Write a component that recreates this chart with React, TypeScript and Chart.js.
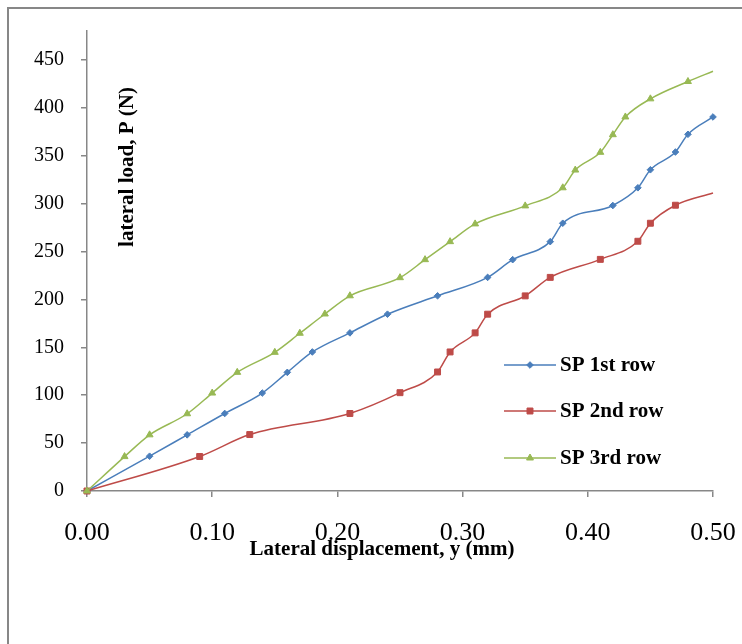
import React, { useEffect, useRef } from "react";
import { Chart, registerables } from "chart.js";
import { drawPoint } from "chart.js/helpers";

Chart.register(...registerables);

// ---- data ----
const SERIES_LABELS = ["SP 1st row", "SP 2nd row", "SP 3rd row"];

const sp1X = [0, 0.05, 0.08, 0.11, 0.14, 0.16, 0.18, 0.21, 0.24, 0.28, 0.32, 0.34, 0.37, 0.38, 0.42, 0.44, 0.45, 0.47, 0.48, 0.5];
const sp1Y = [0, 36.3, 58.6, 80.9, 102.2, 123.8, 145.1, 165, 184.5, 203.7, 222.9, 241.4, 260.2, 279.4, 297.9, 316.4, 335.2, 353.7, 372.2, 390.3];

const sp2X = [0, 0.09, 0.13, 0.21, 0.25, 0.28, 0.29, 0.31, 0.32, 0.35, 0.37, 0.41, 0.44, 0.45, 0.47, 0.5];
const sp2Y = [0, 36, 58.9, 80.9, 102.6, 124.2, 145.1, 165, 184.5, 203.6, 222.9, 241.7, 260.6, 279.4, 298.2, 311];

const sp3X = [0, 0.03, 0.05, 0.08, 0.1, 0.12, 0.15, 0.17, 0.19, 0.21, 0.25, 0.27, 0.29, 0.31, 0.35, 0.38, 0.39, 0.41, 0.42, 0.43, 0.45, 0.48, 0.5];
const sp3Y = [0, 35.9, 58.6, 80.6, 102.2, 123.8, 144.7, 164.6, 184.7, 203.7, 222.6, 241.4, 260.2, 278.7, 297.5, 316.4, 334.9, 353.4, 371.8, 390.3, 409.2, 427.3, 438];

const X_MIN = 0;
const X_MAX = 0.5;
const X_STEP = 0.1;
const Y_MIN = 0;
const Y_MAX = 480;
const Y_STEP = 50;

const X_TITLE = "Lateral displacement, y (mm)";
const Y_TITLE = "lateral load, P (N)";

const SERIF = "'Liberation Serif', 'Times New Roman', serif";

const COLORS = ["#4A7EBB", "#BE4B48", "#98B954"];
const STYLES = ["rectRot", "rect", "triangle"];
const RADII = [3.3, 4.2, 4];
const HIDE_LAST = [false, true, true];

function toPts(xs: number[], ys: number[]) {
  return xs.map((x, i) => ({ x, y: ys[i] }));
}

const framePlugin = {
  id: "frameAndText",
  beforeDraw(chart: any) {
    const ctx = chart.ctx;
    ctx.save();
    ctx.fillStyle = "#ffffff";
    ctx.fillRect(0, 0, chart.width, chart.height);
    ctx.strokeStyle = "#878787";
    ctx.lineWidth = 2;
    ctx.strokeRect(8, 8, chart.width + 50, chart.height + 50);
    ctx.restore();
  },
  afterDraw(chart: any) {
    const ctx = chart.ctx;
    ctx.save();
    // axis titles
    ctx.fillStyle = "#000";
    ctx.font = `bold 21px ${SERIF}`;
    ctx.textAlign = "center";
    ctx.textBaseline = "middle";
    ctx.fillText(X_TITLE, 382, 550);
    ctx.save();
    ctx.translate(128, 167);
    ctx.rotate(-Math.PI / 2);
    ctx.fillText(Y_TITLE, 0, 0);
    ctx.restore();

    // legend
    const rows = [365, 411, 458];
    chart.data.datasets.forEach((ds: any, i: number) => {
      const y = rows[i];
      ctx.strokeStyle = ds.borderColor;
      ctx.lineWidth = 1.6;
      ctx.beginPath();
      ctx.moveTo(504, y);
      ctx.lineTo(556, y);
      ctx.stroke();
      ctx.fillStyle = ds.borderColor;
      ctx.strokeStyle = ds.borderColor;
      ctx.lineWidth = 1;
      drawPoint(ctx, { pointStyle: STYLES[i], radius: RADII[i], borderWidth: 1, rotation: 0 } as any, 530, y);
      ctx.fillStyle = "#000";
      ctx.font = `bold 21px ${SERIF}`;
      ctx.textAlign = "left";
      ctx.textBaseline = "middle";
      ctx.fillText(ds.label, 560, y + 1);
    });
    ctx.restore();
  },
};

export default function App() {
  const ref = useRef<HTMLCanvasElement>(null);

  useEffect(() => {
    if (!ref.current) return;
    const xs = [sp1X, sp2X, sp3X];
    const ys = [sp1Y, sp2Y, sp3Y];
    const datasets = xs.map((x, i) => {
      const n = x.length;
      return {
        label: SERIES_LABELS[i],
        data: toPts(x, ys[i]),
        borderColor: COLORS[i],
        backgroundColor: COLORS[i],
        borderWidth: 1.5,
        pointStyle: STYLES[i],
        pointRadius: (c: any) => (HIDE_LAST[i] && c.dataIndex === n - 1 ? 0 : RADII[i]),
        pointBorderWidth: 1,
        pointBorderColor: COLORS[i],
        pointBackgroundColor: COLORS[i],
        cubicInterpolationMode: "monotone" as const,
        order: 3 - i,
        fill: false,
        clip: false as any,
      };
    });

    const chart = new Chart(ref.current, {
      type: "line",
      data: { datasets },
      options: {
        animation: false,
        responsive: false,
        devicePixelRatio: 1,
        layout: { padding: { left: 0, top: 31, right: 29, bottom: 0 } },
        plugins: { legend: { display: false }, tooltip: { enabled: false }, title: { display: false } },
        scales: {
          x: {
            type: "linear",
            min: X_MIN,
            max: X_MAX,
            afterFit: (s: any) => {
              s.height = 153;
              s.paddingLeft = 0;
              s.paddingRight = 0;
            },
            border: { display: true, color: "#878787", width: 1.5 },
            grid: { display: true, drawOnChartArea: false, drawTicks: true, tickLength: 6, color: "#878787", lineWidth: 1.5 },
            ticks: {
              stepSize: X_STEP,
              color: "#000",
              padding: 21,
              maxRotation: 0,
              font: { family: SERIF, size: 26 },
              callback: (v: any) => Number(v).toFixed(2),
            },
          },
          y: {
            type: "linear",
            min: Y_MIN,
            max: Y_MAX,
            afterFit: (s: any) => {
              s.width = 87;
              s.paddingTop = 0;
              s.paddingBottom = 0;
            },
            border: { display: true, color: "#878787", width: 1.5 },
            grid: { display: true, drawOnChartArea: false, drawTicks: true, tickLength: 6, color: "#878787", lineWidth: 1.5 },
            ticks: {
              stepSize: Y_STEP,
              includeBounds: false,
              color: "#000",
              padding: 17,
              font: { family: SERIF, size: 20 },
            },
          },
        },
      },
      plugins: [framePlugin],
    });
    return () => chart.destroy();
  }, []);

  return (
    <div style={{ position: "fixed", left: 0, top: 0, width: 742, height: 644 }}>
      <canvas ref={ref} width={742} height={644} style={{ display: "block", width: 742, height: 644 }} />
    </div>
  );
}
